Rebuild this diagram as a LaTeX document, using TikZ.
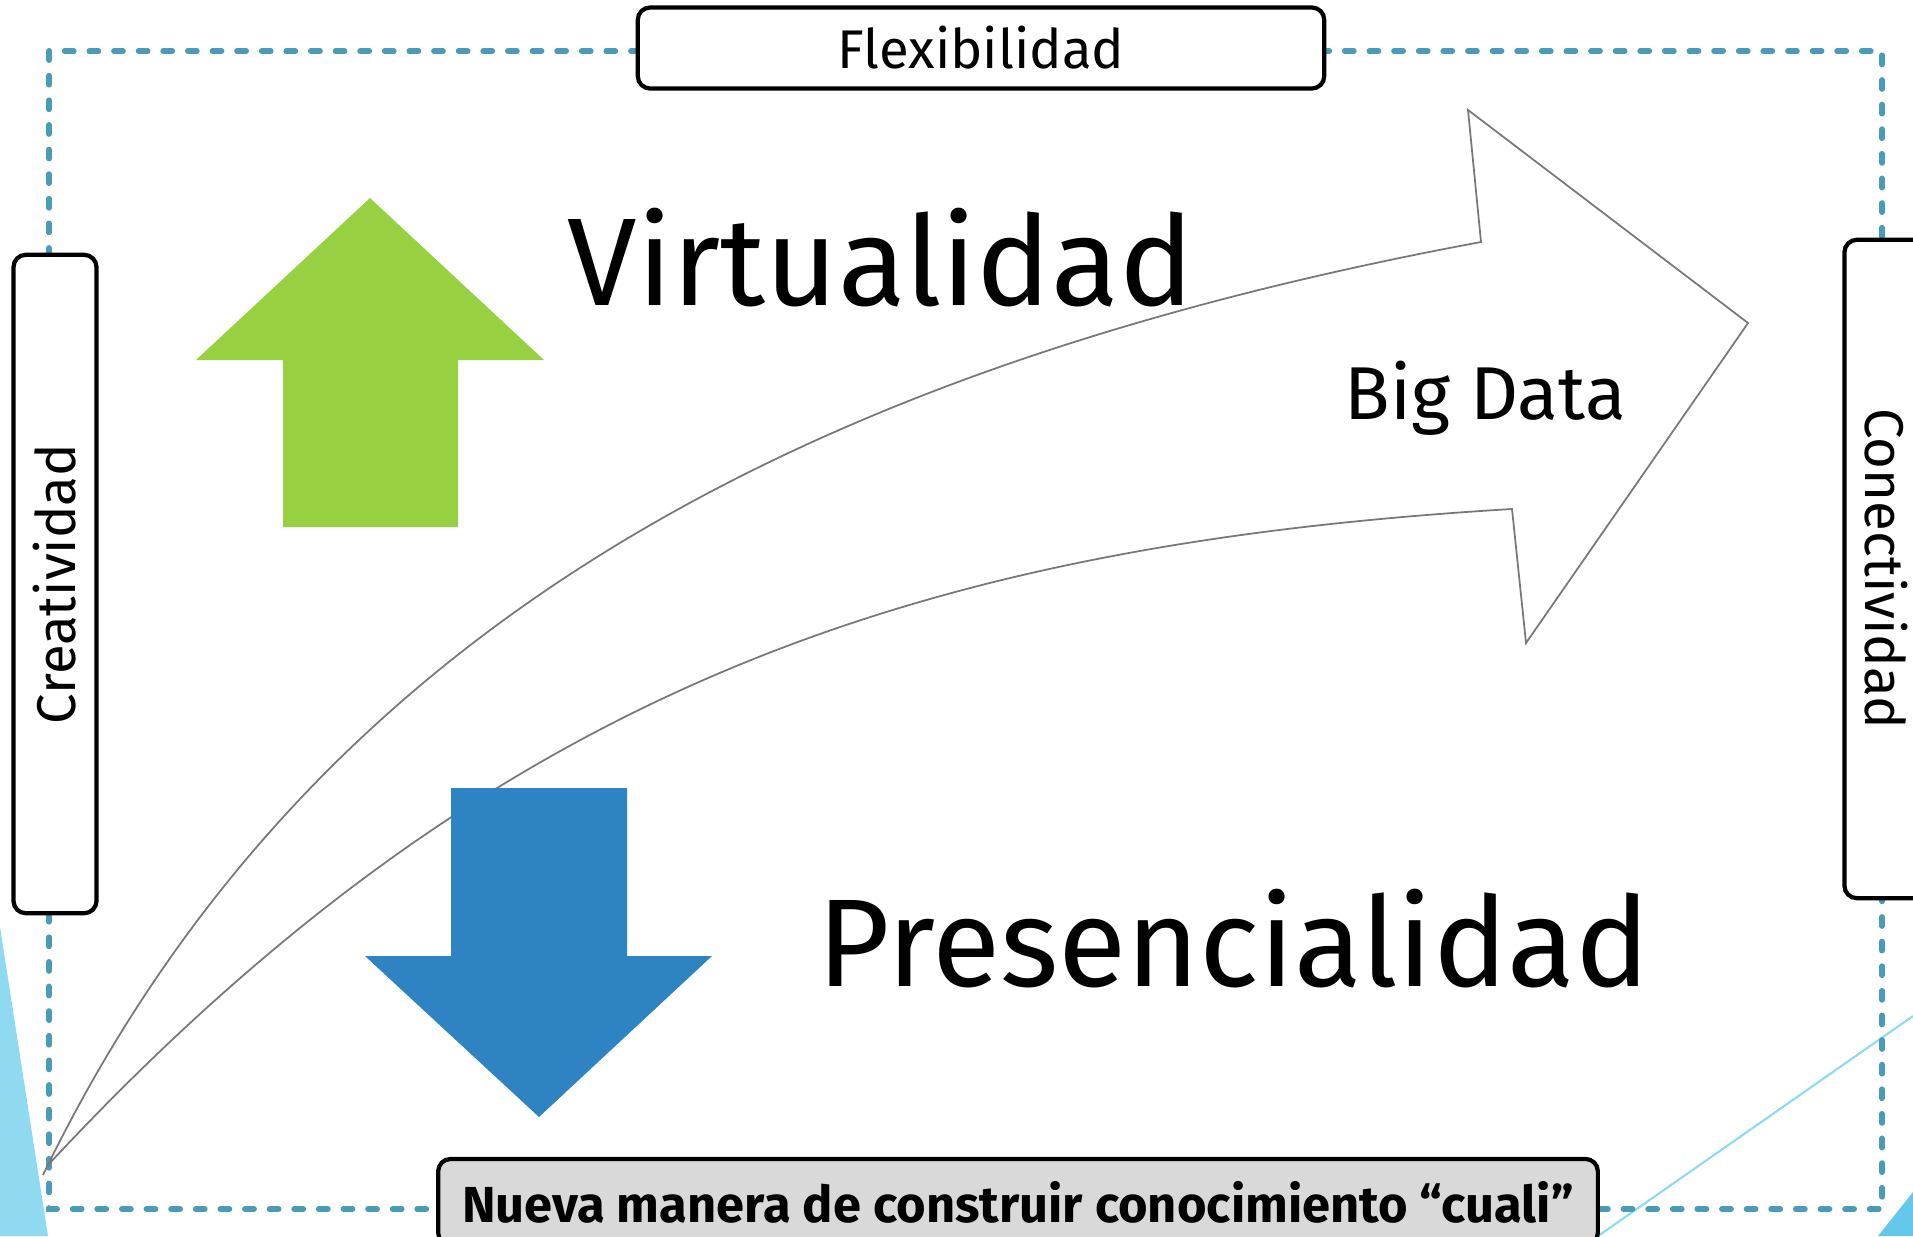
\documentclass[tikz,border=0pt]{standalone}
\usepackage{fontspec}
\setmainfont{Fira Sans}

\definecolor{framecol}{RGB}{74,155,183}
\definecolor{upgreen}{RGB}{151,208,64}
\definecolor{downblue}{RGB}{46,131,194}
\definecolor{skyblue}{RGB}{143,218,241}
\definecolor{deepsky}{RGB}{100,200,236}
\definecolor{boxgray}{RGB}{217,217,217}
\definecolor{curvegray}{RGB}{120,120,120}

\tikzset{
  framedash/.style={draw=framecol, line width=1.6pt, line cap=round, dash pattern=on 2.6pt off 4.4pt},
  labelbox/.style={draw=black, line width=1.2pt, rounded corners=3.5pt, fill=white, inner sep=0pt,
                   font=\fontsize{15.5}{18}\selectfont},
  sidebox/.style={labelbox, minimum width=6.58cm, minimum height=0.83cm},
  bigword/.style={inner sep=0pt, anchor=base west, font=\fontsize{35.5}{40}\selectfont},
}

\begin{document}
\begin{tikzpicture}[x=0.01cm, y=-0.01cm]
        \clip (0,0) rectangle (1913,1236);
        % corner decorations
        \fill[skyblue] (0,927) -- (48,1236) -- (0,1236) -- cycle;
        \draw[skyblue, line width=0.6pt] (1598,1236) -- (1913,1016);
        \fill[deepsky] (1878,1236) -- (1913,1192) -- (1913,1236) -- cycle;

        \draw[framedash] (49,51) rectangle (1882,1209);

        % curved arrow
        \draw[curvegray, line width=0.5pt, line join=miter]
          (43,1175) .. controls (304,635) and (793,370) .. (1481,242)
          -- (1468,110) -- (1748,323) -- (1526,643) -- (1512,509)
          .. controls (913,545) and (490,690) .. (48,1165) -- cycle;

        % up and down arrows
        \fill[upgreen] (370,198) -- (544,360) -- (458,360) -- (458,527)
          -- (283,527) -- (283,360) -- (196,360) -- cycle;
        \fill[downblue] (451,788) -- (627,788) -- (627,956) -- (712,956)
          -- (539,1117) -- (365,956) -- (451,956) -- cycle;

        \node[bigword] (virt) at (567,305) {Virtualidad};
        \node[bigword] (pres) at (817,986) {Presencialidad};
        \node[inner sep=0pt, anchor=base west, font=\fontsize{21.3}{24}\selectfont] (bigdata) at (1344,419) {Big Data};

        \node[labelbox, minimum width=6.86cm, minimum height=0.81cm] (flex) at (981,48) {Flexibilidad};
        \node[sidebox, rotate=90] (crea) at (55,584) {Creatividad};
        \node[sidebox, rotate=-90] (conec) at (1886,569) {Conectividad};
        \node[labelbox, fill=boxgray, minimum width=11.59cm, minimum height=0.86cm,
              font=\fontsize{14.4}{17}\selectfont\bfseries] (nueva) at (1018,1202)
              {Nueva manera de construir conocimiento “cuali”};
      \end{tikzpicture}
\end{document}
